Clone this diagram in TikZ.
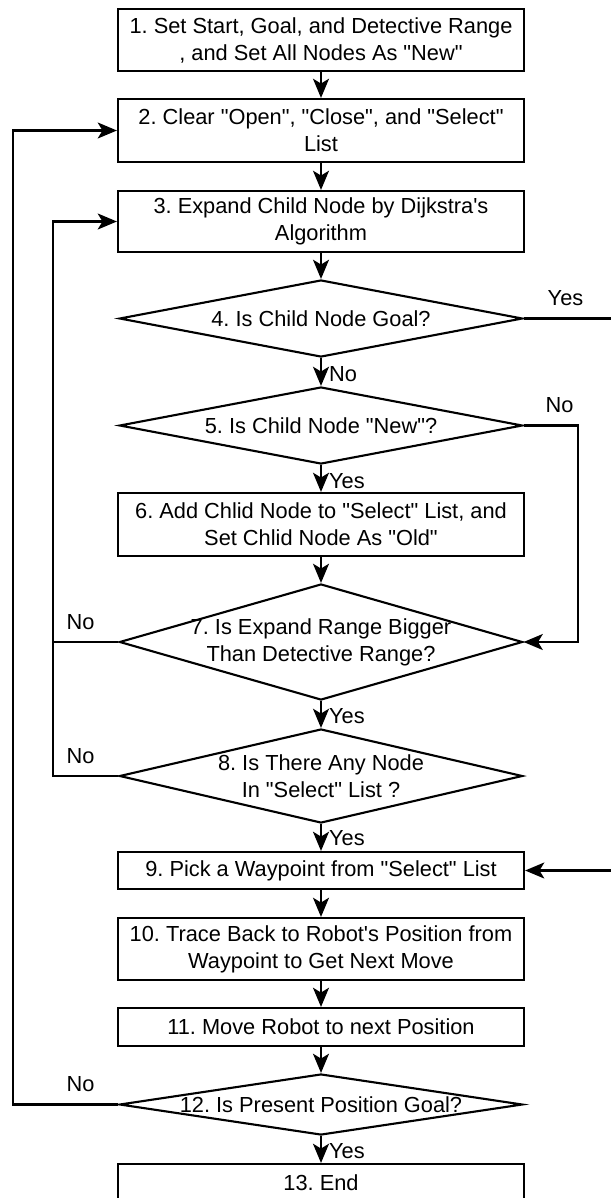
\documentclass[tikz,border=0pt]{standalone}
\usepackage{fontspec}
\setmainfont{Liberation Sans}[Ligatures=TeXOff]
\usetikzlibrary{arrows.meta}
\usetikzlibrary{shapes.geometric}

\tikzset{
  box/.style={draw,line width=1.5pt,minimum width=10.15cm,align=center,inner sep=0pt},
  dec/.style={draw,diamond,line width=1.5pt,minimum width=10.075cm,inner sep=0pt},
  dtext/.style={align=center,inner sep=0pt},
  flow/.style={line width=1.5pt,-{Stealth[length=0.48cm,width=0.4cm,inset=0.12cm]}},
  link/.style={line width=1.5pt},
  lbl/.style={inner sep=0pt}
}

\begin{document}
\frenchspacing
\begin{tikzpicture}[x=0.025cm,y=-0.025cm,font={\fontsize{15.5}{19.2}\selectfont}]
  \useasboundingbox (0,0) rectangle (611,1198);
  \clip (0,0) rectangle (611,1198);
  \node[box,minimum height=1.55cm] (b1) at (321,40) {1. Set Start, Goal, and Detective Range\\, and Set All Nodes As "New"};
  \node[box,minimum height=1.575cm] (b2) at (321,130.5) {2. Clear "Open", "Close", and "Select"\\List};
  \node[box,minimum height=1.525cm] (b3) at (321,221.5) {3. Expand Child Node by Dijkstra's\\Algorithm};
  \node[dec,minimum height=1.925cm] (d4) at (321,318.5) {};
  \node[dtext] (t4) at (d4) {4. Is Child Node Goal?};
  \node[dec,minimum height=1.925cm] (d5) at (321,425.5) {};
  \node[dtext] (t5) at (d5) {5. Is Child Node "New"?};
  \node[box,minimum height=1.575cm] (b6) at (321,524.5) {6. Add Chlid Node to "Select" List, and\\Set Chlid Node As "Old"};
  \node[dec,minimum height=2.9cm] (d7) at (321,642) {};
  \node[dtext] (t7) at (d7) {7. Is Expand Range Bigger\\Than Detective Range?};
  \node[dec,minimum height=2.35cm] (d8) at (321,776) {};
  \node[dtext] (t8) at (d8) {8. Is There Any Node\\In "Select" List ?};
  \node[box,minimum height=0.925cm] (b9) at (321,870.5) {9. Pick a Waypoint from "Select" List};
  \node[box,minimum height=1.55cm] (b10) at (321,949) {10. Trace Back to Robot's Position from\\Waypoint to Get Next Move};
  \node[box,minimum height=0.95cm] (b11) at (321,1027) {11. Move Robot to next Position};
  \node[dec,minimum height=1.525cm] (d12) at (321,1104.5) {};
  \node[dtext] (t12) at (d12) {12. Is Present Position Goal?};
  \node[box,minimum height=0.95cm] (b13) at (321,1183) {13. End};
  \coordinate (yo) at (621,318.5);
  \coordinate (ri) at (578,425.5);
  \coordinate (li) at (53,642);
  \coordinate (lo) at (13,1104.5);
  \draw[flow] (b1) -- (b2);
  \draw[flow] (b2) -- (b3);
  \draw[flow] (b3) -- (d4);
  \draw[flow] (d4) -- node[lbl,right=5pt,pos=.57]{No} (d5);
  \draw[flow] (d4.east) -- node[lbl,above=8pt,pos=.43]{Yes} (yo) |- (b9.east);
  \draw[flow] (d5) -- node[lbl,right=5pt,pos=.6]{Yes} (b6);
  \draw[flow] (d5.east) -- node[lbl,above=8pt,pos=.66]{No} (ri) |- (d7.east);
  \draw[flow] (b6) -- (d7);
  \draw[flow] (d7) -- node[lbl,right=5pt,pos=.55]{Yes} (d8);
  \draw[flow] (d7.west) -- node[lbl,above=8pt,pos=.58]{No} (li) |- (b3.west);
  \draw[link] (d8.west) -- node[lbl,above=8pt,pos=.58]{No} (li |- d8.west) -- (li);
  \draw[flow] (d8) -- node[lbl,right=5pt,pos=.52]{Yes} (b9);
  \draw[flow] (b9) -- (b10);
  \draw[flow] (b10) -- (b11);
  \draw[flow] (b11) -- (d12);
  \draw[flow] (d12) -- node[lbl,right=5pt,pos=.55]{Yes} (b13);
  \draw[flow] (d12.west) -- node[lbl,above=8pt,pos=.36]{No} (lo) |- (b2.west);
\end{tikzpicture}
\end{document}
